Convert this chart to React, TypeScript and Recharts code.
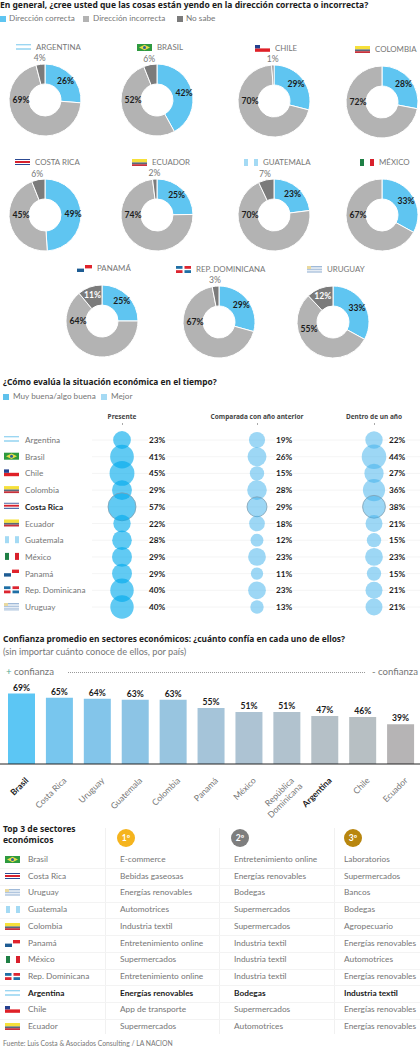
import React from "react";
import {
  Bar,
  BarChart,
  CartesianGrid,
  Cell,
  LabelList,
  Pie,
  PieChart,
  Scatter,
  ScatterChart,
  XAxis,
  YAxis,
  ZAxis,
} from "recharts";

const FONT = "Lato, sans-serif";
const HEAD = "'Noto Sans', sans-serif";
const INK = "#1c1c1c";
const MUTED = "#767676";

// Donuts
const donutCountries = ["ARGENTINA", "BRASIL", "CHILE", "COLOMBIA", "COSTA RICA", "ECUADOR", "GUATEMALA", "MÉXICO", "PANAMÁ", "REP. DOMINICANA", "URUGUAY"];
const correcta = [26, 42, 29, 28, 49, 25, 23, 33, 25, 29, 33];
const incorrecta = [69, 52, 70, 72, 45, 74, 70, 67, 64, 67, 55];
const noSabe = [4, 6, 1, 0, 6, 2, 7, 0, 11, 3, 12];
const donutFlags = ["ar", "br", "cl", "co", "cr", "ec", "gt", "mx", "pa", "do", "uy"];
const donutCenters = [[45, 100], [157, 100], [274, 101], [382, 102], [45, 215], [157, 215], [274, 215], [382, 215], [102, 321], [219, 322], [333, 322]];
const donutTitleX = [16, 137, 255, 355, 15, 132, 243, 359, 77, 176, 307];
const sliceColors = ["#5FC5F1", "#B3B3B3", "#7B7B7B"];

// Burbujas
const econCountries = ["Argentina", "Brasil", "Chile", "Colombia", "Costa Rica", "Ecuador", "Guatemala", "México", "Panamá", "Rep. Dominicana", "Uruguay"];
const econFlags = ["ar", "br", "cl", "co", "cr", "ec", "gt", "mx", "pa", "do", "uy"];
const presente = [23, 41, 45, 29, 57, 22, 28, 29, 29, 40, 40];
const comparada = [19, 26, 15, 28, 29, 18, 12, 23, 11, 23, 13];
const dentroDeUnAno = [22, 44, 27, 36, 38, 21, 15, 23, 15, 21, 21];

// Barras
const confianzaPaises = ["Brasil", "Costa Rica", "Uruguay", "Guatemala", "Colombia", "Panamá", "México", "República Dominicana", "Argentina", "Chile", "Ecuador"];
const confianzaValores = [69, 65, 64, 63, 63, 55, 51, 51, 47, 46, 39];
const confianzaColores = ["#5CC6F4", "#78C6EE", "#83C5EA", "#8CC4E5", "#98C5E0", "#A5C4D9", "#ADC3D3", "#B1C2CE", "#B5C0C7", "#B7BFC3", "#B6B4B5"];

// Tabla
const tablaPaises = ["Brasil", "Costa Rica", "Uruguay", "Guatemala", "Colombia", "Panamá", "México", "Rep. Dominicana", "Argentina", "Chile", "Ecuador"];
const tablaFlags = ["br", "cr", "uy", "gt", "co", "pa", "mx", "do", "ar", "cl", "ec"];
const primero = ["E-commerce", "Bebidas gaseosas", "Energías renovables", "Automotrices", "Industria textil", "Entretenimiento online", "Supermercados", "Entretenimiento online", "Energías renovables", "App de transporte", "Supermercados"];
const segundo = ["Entretenimiento online", "Energías renovables", "Bodegas", "Supermercados", "Supermercados", "Industria textil", "Industria textil", "Industria textil", "Bodegas", "Supermercados", "Automotrices"];
const tercero = ["Laboratorios", "Supermercados", "Bancos", "Bodegas", "Agropecuario", "Energías renovables", "Automotrices", "Energías renovables", "Industria textil", "Energías renovables", "Energías renovables"];

function Flag({ code }: { code: string }) {
  const bars = (rows: [string, number][]) => {
    let y = 0;
    return rows.map(([c, h], i) => {
      const r = <rect key={i} x={0} y={y} width={15} height={h} fill={c} />;
      y += h;
      return r;
    });
  };
  switch (code) {
    case "ar":
      return <g>{bars([["#9BD6F2", 1.6], ["#fff", 2.6], ["#9BD6F2", 1.6]])}</g>;
    case "br":
      return (
        <g>
          <rect width={15} height={7} fill="#2E9A3F" />
          <path d="M7.5 0.8 L13 3.5 L7.5 6.2 L2 3.5 Z" fill="#E8DC4A" />
          <circle cx={7.5} cy={3.5} r={1.5} fill="#2B5E9B" />
        </g>
      );
    case "cl":
      return (
        <g>
          <rect x={0} y={3.4} width={15} height={3.4} fill="#DF2027" />
          <rect x={0} y={0} width={5} height={3.4} fill="#24418F" />
        </g>
      );
    case "co":
    case "ec":
      return <g>{bars([["#F6E03A", 3.4], ["#5A6A7A", 1.8], ["#C8323C", 1.8]])}</g>;
    case "cr":
      return <g>{bars([["#2C4A92", 1], ["#fff", 1], ["#D8202C", 2], ["#fff", 1], ["#2C4A92", 1]])}</g>;
    case "gt":
      return (
        <g>
          <rect x={1} width={4} height={7} fill="#A4DAF4" />
          <rect x={11} width={4} height={7} fill="#A4DAF4" />
        </g>
      );
    case "mx":
      return (
        <g>
          <rect x={1} width={4} height={7} fill="#1F7F45" />
          <rect x={11} width={4} height={7} fill="#D8202C" />
        </g>
      );
    case "pa":
      return (
        <g>
          <rect x={0} y={3.6} width={7} height={3.4} fill="#1E5C93" />
          <rect x={8} y={0} width={7} height={3.4} fill="#E0232C" />
        </g>
      );
    case "do":
      return (
        <g>
          <rect x={0} y={0} width={6.5} height={2.8} fill="#1F6FA5" />
          <rect x={8.5} y={0} width={6.5} height={2.8} fill="#DC2530" />
          <rect x={0} y={4.2} width={6.5} height={2.8} fill="#DC2530" />
          <rect x={8.5} y={4.2} width={6.5} height={2.8} fill="#1F6FA5" />
        </g>
      );
    default:
      return (
        <g>
          {bars([["#9FB9D8", 1], ["#fff", 0.6], ["#9FB9D8", 1], ["#fff", 0.6], ["#9FB9D8", 1], ["#fff", 0.6], ["#9FB9D8", 1], ["#fff", 0.6], ["#9FB9D8", 1]])}
          <rect width={4} height={3} fill="#E9D9A0" />
        </g>
      );
  }
}

function HtmlFlag({ code, x, y }: { code: string; x: number; y: number }) {
  return (
    <svg width={15} height={7} style={{ position: "absolute", left: x, top: y }}>
      <Flag code={code} />
    </svg>
  );
}

function Txt({ x, y, children, size = 8.2, color = MUTED, weight = 400, font = FONT, align, w }: any) {
  return (
    <div
      style={{
        position: "absolute",
        left: x,
        top: y,
        width: w,
        fontFamily: font,
        fontSize: size,
        fontWeight: weight,
        color,
        lineHeight: "11px",
        whiteSpace: "nowrap",
        textAlign: align,
      }}
    >
      {children}
    </div>
  );
}

function Swatch({ x, y, color, size = 6 }: { x: number; y: number; color: string; size?: number }) {
  return <div style={{ position: "absolute", left: x, top: y, width: size, height: size, background: color }} />;
}

function renderSliceLabel(props: any) {
  const { cx, cy, midAngle, index, value, payload } = props;
  const rad = (-midAngle * Math.PI) / 180;
  const at = (r: number) => [cx + r * Math.cos(rad), cy + r * Math.sin(rad)];
  let x, y;
  let fill = INK;
  let weight = 700;
  if (index === 1) {
    x = cx - 24;
    y = cy + (payload.country === "URUGUAY" ? 7 : 0);
  } else if (index === 2 && value < 10) {
    [x, y] = at(42);
    fill = MUTED;
    weight = 400;
  } else {
    [x, y] = at(28);
    if (index === 2) fill = "#fff";
  }
  return (
    <text x={x} y={y} textAnchor="middle" dominantBaseline="central" fontFamily={FONT} fontSize={8.6} fontWeight={weight} fill={fill}>
      {value}%
    </text>
  );
}

function Donut({ i }: { i: number }) {
  const [cx, cy] = donutCenters[i];
  const slices = [correcta[i], incorrecta[i], noSabe[i]]
    .map((value, k) => ({ value, color: sliceColors[k], country: donutCountries[i] }))
    .filter((s) => s.value > 0);
  return (
    <div style={{ position: "absolute", left: cx - 50, top: cy - 50 }}>
      <PieChart width={100} height={100} margin={{ top: 0, right: 0, bottom: 0, left: 0 }}>
        <Pie
          data={slices}
          dataKey="value"
          cx={50}
          cy={50}
          innerRadius={16}
          outerRadius={36}
          startAngle={90}
          endAngle={-270}
          stroke="#fff"
          strokeWidth={1}
          label={renderSliceLabel}
          labelLine={false}
          isAnimationActive={false}
        >
          {slices.map((s) => (
            <Cell key={s.color} fill={s.color} />
          ))}
        </Pie>
      </PieChart>
    </div>
  );
}

function EconTick({ y, payload }: any) {
  const i = econCountries.indexOf(payload.value);
  const bold = payload.value === "Costa Rica";
  return (
    <g>
      <g transform={`translate(4 ${y - 4})`}>
        <Flag code={econFlags[i]} />
      </g>
      <text x={25} y={y} dominantBaseline="central" fontFamily={FONT} fontSize={8.2} fontWeight={bold ? 700 : 400} fill={bold ? INK : MUTED}>
        {payload.value}
      </text>
    </g>
  );
}

function BubbleColumn({ values, left, width, domain, color, labelGap, axis }: any) {
  const data = econCountries.map((country, i) => ({ country, col: 0, value: values[i] }));
  return (
    <div style={{ position: "absolute", left, top: 425 }}>
      <ScatterChart width={width} height={197} margin={{ top: 6.65, right: 0, bottom: 6.65, left: 0 }}>
        <CartesianGrid vertical={false} syncWithTicks stroke="#f1f1f1" strokeWidth={0.8} />
        <XAxis type="number" dataKey="col" domain={domain} hide />
        <YAxis
          type="category"
          dataKey="country"
          reversed
          width={axis ? 92 : 0}
          hide={!axis}
          axisLine={false}
          tickLine={false}
          interval={0}
          tick={<EconTick />}
        />
        <ZAxis type="number" dataKey="value" domain={[0, 60]} range={[0, 646]} />
        <Scatter data={data} fill={color} isAnimationActive={false}>
          {data.map((d) => (
            <Cell key={d.country} fill={color} stroke={d.country === "Costa Rica" ? "#7F9FB2" : "none"} strokeWidth={0.8} />
          ))}
          <LabelList
            dataKey="value"
            content={(p: any) => {
              const cx = p.x + p.width / 2 + labelGap;
              const cy = p.y + p.height / 2;
              return (
                <g>
                  <rect x={cx - 9} y={cy - 5} width={18} height={10} fill="#fff" />
                  <text x={cx} y={cy} textAnchor="middle" dominantBaseline="central" fontFamily={FONT} fontSize={8.2} fontWeight={700} fill={INK}>
                    {p.value}%
                  </text>
                </g>
              );
            }}
          />
        </Scatter>
      </ScatterChart>
    </div>
  );
}

function BarTick({ x, y, payload }: any) {
  const bold = payload.value === "Brasil" || payload.value === "Argentina";
  const parts = payload.value === "República Dominicana" ? ["República", "Dominicana"] : [payload.value];
  return (
    <g transform={`translate(${x + 5} ${y + 7}) rotate(-45)`}>
      {parts.map((p: string, k: number) => (
        <text key={p} x={k * 2} y={k * 10 + 3} textAnchor="end" fontFamily={FONT} fontSize={8.6} fontWeight={bold ? 700 : 400} fill={bold ? INK : MUTED}>
          {p}
        </text>
      ))}
    </g>
  );
}

const barData = confianzaPaises.map((pais, i) => ({ pais, valor: confianzaValores[i] }));

const TABLE_COLS = [120, 234, 344];
const RULES = [105, 219, 334];

export default function App() {
  return (
    <div style={{ position: "absolute", left: 0, top: 0, width: 420, height: 1048, overflow: "hidden", background: "#fff" }}>
      <Txt x={0} y={-1} size={8.5} weight={700} color={INK} font={HEAD}>
        En general, ¿cree usted que las cosas están yendo en la dirección correcta o incorrecta?
      </Txt>
      <Swatch x={0} y={16} color={sliceColors[0]} />
      <Txt x={9} y={13}>Dirección correcta</Txt>
      <Swatch x={83} y={16} color={sliceColors[1]} />
      <Txt x={93} y={13}>Dirección incorrecta</Txt>
      <Swatch x={177} y={16} color={sliceColors[2]} />
      <Txt x={186} y={13}>No sabe</Txt>

      {donutCountries.map((name, i) => (
        <React.Fragment key={name}>
          <HtmlFlag code={donutFlags[i]} x={donutTitleX[i]} y={donutCenters[i][1] - 56} />
          <Txt x={donutTitleX[i] + 20} y={donutCenters[i][1] - 58} size={7.9}>{name}</Txt>
          <Donut i={i} />
        </React.Fragment>
      ))}

      <Txt x={3} y={376} size={8.4} weight={700} color={INK} font={HEAD}>¿Cómo evalúa la situación económica en el tiempo?</Txt>
      <Swatch x={3} y={394} color="#5FC1EC" />
      <Txt x={13} y={391}>Muy buena/algo buena</Txt>
      <Swatch x={101} y={394} color="#A5DAF4" />
      <Txt x={111} y={391}>Mejor</Txt>

      <Txt x={72} w={100} align="center" y={411} size={6.5} weight={700} color="#444" font={HEAD}>Presente</Txt>
      <Txt x={177} w={160} align="center" y={411} size={6.5} weight={700} color="#444" font={HEAD}>Comparada con año anterior</Txt>
      <Txt x={324} w={100} align="center" y={411} size={6.5} weight={700} color="#444" font={HEAD}>Dentro de un año</Txt>
      {[122, 257, 374].map((x) => (
        <div key={x} style={{ position: "absolute", left: x - 0.5, top: 423, width: 1, height: 2, background: "#aaa" }} />
      ))}

      <BubbleColumn axis values={presente} left={0} width={240} domain={[-30, 118]} color="rgba(0,170,235,0.62)" labelGap={35} />
      <BubbleColumn values={comparada} left={240} width={105} domain={[-17, 88]} color="rgba(60,175,235,0.5)" labelGap={27} />
      <BubbleColumn values={dentroDeUnAno} left={345} width={75} domain={[-29, 46]} color="rgba(60,175,235,0.5)" labelGap={23} />

      <Txt x={3} y={633} size={8.4} weight={700} color={INK} font={HEAD}>Confianza promedio en sectores económicos: ¿cuánto confía en cada uno de ellos?</Txt>
      <Txt x={3} y={646} size={9.2}>(sin importar cuánto conoce de ellos, por país)</Txt>
      <Txt x={6} y={666} size={9.6}><span style={{ color: "#4FA98F" }}>+</span> confianza</Txt>
      <div style={{ position: "absolute", left: 68, top: 672, width: 297, borderTop: "1px dotted #999" }} />
      <Txt x={372} y={666} size={9.6}>- confianza</Txt>

      <div style={{ position: "absolute", left: 0, top: 662 }}>
        <BarChart width={420} height={162} data={barData} margin={{ top: 0, right: 0, bottom: 0, left: 0 }}>
          <XAxis
            dataKey="pais"
            height={60}
            interval={0}
            padding={{ left: 3, right: 0 }}
            axisLine={{ stroke: "#222", strokeWidth: 1 }}
            tickLine={false}
            tick={<BarTick />}
          />
          <YAxis hide domain={[0, 100]} />
          <Bar dataKey="valor" barSize={27} isAnimationActive={false}>
            {barData.map((d, i) => (
              <Cell key={d.pais} fill={confianzaColores[i]} />
            ))}
            <LabelList dataKey="valor" position="top" offset={3} formatter={(v: any) => `${v}%`} style={{ fontFamily: FONT, fontSize: 8.6, fontWeight: 700, fill: INK }} />
          </Bar>
        </BarChart>
      </div>

      <Txt x={3} y={823} size={8.5} weight={700} color={INK} font={HEAD}>Top 3 de sectores</Txt>
      <Txt x={3} y={834} size={8.5} weight={700} color={INK} font={HEAD}>económicos</Txt>
      {["#F5B41E", "#7E7E7E", "#B8860F"].map((c, i) => (
        <div
          key={c}
          style={{
            position: "absolute",
            left: [117, 231, 344][i],
            top: 829,
            width: 18,
            height: 18,
            borderRadius: 9,
            background: c,
            color: "#fff",
            fontFamily: FONT,
            fontSize: 8.5,
            fontWeight: 700,
            lineHeight: "18px",
            textAlign: "center",
          }}
        >
          {i + 1}º
        </div>
      ))}
      {RULES.map((x) => (
        <div key={x} style={{ position: "absolute", left: x, top: 828, width: 1, height: 206, background: "#f1f1f1" }} />
      ))}
      {tablaPaises.map((pais, i) => {
        const bold = pais === "Argentina";
        const y = 854 + i * 16.72;
        const cellColor = bold ? INK : MUTED;
        return (
          <React.Fragment key={pais}>
            {i > 0 && <div style={{ position: "absolute", left: 0, top: y - 2.5, width: 420, height: 1, background: "#f3f3f3" }} />}
            <HtmlFlag code={tablaFlags[i]} x={5} y={y + 2} />
            <Txt x={28} y={y} size={8.3} color={cellColor} weight={bold ? 700 : 400}>{pais}</Txt>
            {[primero, segundo, tercero].map((col, k) => (
              <Txt key={k} x={TABLE_COLS[k]} y={y} size={8.3} color={cellColor} weight={bold ? 700 : 400}>{col[i]}</Txt>
            ))}
          </React.Fragment>
        );
      })}
      <Txt x={3} y={1038} size={6.8} color="#777">Fuente: Luis Costa &amp; Asociados Consulting / LA NACION</Txt>
    </div>
  );
}
